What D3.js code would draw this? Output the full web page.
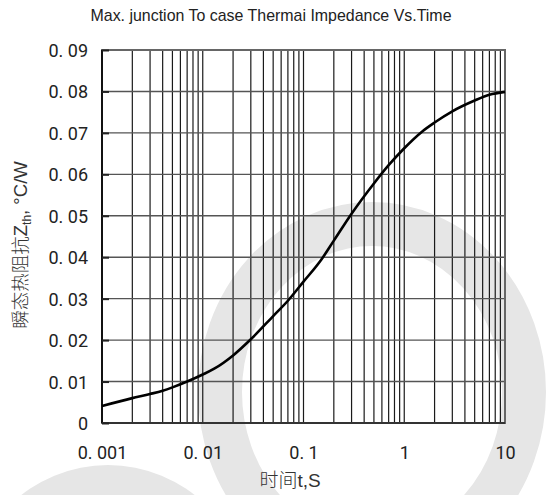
<html>
<title>Thermal impedance</title>
<script src="https://cdnjs.cloudflare.com/ajax/libs/d3/7.8.5/d3.min.js"></script>
<style>
body { margin: 0; background: #fff; }
svg { display: block; }
</style>
<body>
<svg width="549" height="495"></svg>
<script>

// data
var timeS = [0.001, 0.002, 0.003, 0.004, 0.005, 0.007, 0.01, 0.013, 0.02, 0.03, 0.05, 0.07, 0.1, 0.15, 0.2, 0.3, 0.5, 0.7, 1, 1.5, 2, 3, 5, 7, 10];
var zth = [0.0041, 0.0060, 0.0070, 0.0078, 0.0086, 0.0100, 0.0117, 0.0131, 0.0163, 0.0202, 0.0258, 0.0295, 0.0341, 0.0394, 0.0440, 0.0505, 0.0578, 0.0622, 0.0663, 0.0703, 0.0725, 0.0752, 0.0778, 0.0792, 0.0799];

var xTicks = [0.001, 0.01, 0.1, 1, 10];
var xTickLabels = ["0. 001", "0. 01", "0. 1", "1", "10"];
var yTicks = [0, 0.01, 0.02, 0.03, 0.04, 0.05, 0.06, 0.07, 0.08, 0.09];
var yTickLabels = ["0", "0. 01", "0. 02", "0. 03", "0. 04", "0. 05", "0. 06", "0. 07", "0. 08", "0. 09"];

var title = "Max. junction To case Thermai Impedance Vs.Time";

var svg = d3.select("svg");
var plotL = 102, plotR = 505, plotT = 50, plotB = 423;

var x = d3.scaleLog().domain([0.001, 10]).range([plotL, plotR]);
var y = d3.scaleLinear().domain([0, 0.09]).range([plotB, plotT]);

// watermark rings behind the chart
svg.append("ellipse")
	.attr("cx", 372).attr("cy", 392).attr("rx", 152).attr("ry", 168)
	.style("fill", "none").style("stroke", "#e6e6e6").style("stroke-width", 44);
svg.append("circle")
	.attr("cx", 108).attr("cy", 605).attr("r", 140)
	.style("fill", "#e6e6e6");

// minor + major vertical grid lines (1..9 per decade)
var vLines = [];
xTicks.slice(0, -1).forEach(function (d) {
	for (var i = 1; i < 10; i++) vLines.push(d * i);
});
vLines.push(10);

svg.append("g").selectAll("line").data(vLines).enter().append("line")
	.attr("x1", function (d) { return x(d); })
	.attr("x2", function (d) { return x(d); })
	.attr("y1", plotT).attr("y2", plotB)
	.style("stroke", "#1a1a1a").style("stroke-width", 1.2);

svg.append("g").selectAll("line").data(yTicks).enter().append("line")
	.attr("x1", plotL).attr("x2", plotR)
	.attr("y1", function (d) { return y(d); })
	.attr("y2", function (d) { return y(d); })
	.style("stroke", "#555").style("stroke-width", 1.4);

// frame
svg.append("rect")
	.attr("x", plotL).attr("y", plotT).attr("width", plotR - plotL).attr("height", plotB - plotT)
	.style("fill", "none").style("stroke", "#666").style("stroke-width", 2);
svg.append("line").attr("x1", plotL).attr("x2", plotL).attr("y1", plotT).attr("y2", plotB)
	.style("stroke", "#111").style("stroke-width", 2);
svg.append("line").attr("x1", plotL).attr("x2", plotR).attr("y1", plotB).attr("y2", plotB)
	.style("stroke", "#333").style("stroke-width", 2);

// axes (labels + short inward ticks)
var yAxis = d3.axisLeft(y).tickValues(yTicks).tickSize(-7).tickPadding(14)
	.tickFormat(function (d, i) { return yTickLabels[i]; });
var gy = svg.append("g").attr("transform", "translate(" + plotL + ",0)").call(yAxis);

var xAxis = d3.axisBottom(x).tickValues(xTicks).tickSize(0).tickPadding(30)
	.tickFormat(function (d, i) { return xTickLabels[i]; });
var gx = svg.append("g").attr("transform", "translate(0," + plotB + ")").call(xAxis);

[gx, gy].forEach(function (g) {
	g.select(".domain").remove();
	g.selectAll(".tick line").style("stroke", "#222").style("stroke-width", 2);
	g.selectAll("text")
		.style("font-family", "Roboto, sans-serif")
		.style("font-size", "18px")
		.style("fill", "#222")
		.style("white-space", "pre");
});
gy.selectAll("text").attr("dy", "0.36em");
gx.selectAll("text").attr("dy", "0.36em");
gx.selectAll(".tick line").remove();

// curve
var line = d3.line()
	.x(function (d) { return x(d[0]); })
	.y(function (d) { return y(d[1]); })
	.curve(d3.curveMonotoneX);

svg.append("path")
	.datum(d3.zip(timeS, zth))
	.attr("d", line)
	.style("fill", "none").style("stroke", "#000").style("stroke-width", 2.6);

// titles
svg.append("text")
	.attr("x", 271).attr("y", 21)
	.attr("text-anchor", "middle")
	.attr("textLength", 361).attr("lengthAdjust", "spacingAndGlyphs")
	.style("font-family", "'Liberation Sans Narrow', 'Liberation Sans', sans-serif")
	.style("font-size", "17px")
	.style("fill", "#222")
	.text(title);

var xt = svg.append("text")
	.attr("x", 290).attr("y", 487)
	.attr("text-anchor", "middle")
	.style("font-size", "19px")
	.style("fill", "#333");
xt.append("tspan").style("font-family", "'Noto Sans CJK SC', sans-serif").style("font-weight", 300).text("时间");
xt.append("tspan").style("font-family", "'Liberation Sans', sans-serif").text("t,S");

var yt = svg.append("text")
	.attr("transform", "translate(27,245) rotate(-90)")
	.attr("text-anchor", "middle")
	.style("font-size", "18.5px")
	.style("fill", "#333");
yt.append("tspan").style("font-family", "'Noto Sans CJK SC', sans-serif").style("font-weight", 300).text("瞬态热阻抗");
yt.append("tspan").style("font-family", "'Liberation Sans', sans-serif").text("Z");
yt.append("tspan").style("font-family", "'Liberation Sans', sans-serif").style("font-size", "12px").attr("dy", 4).text("th");
yt.append("tspan").style("font-family", "'Liberation Sans', sans-serif").attr("dy", -4).text(", °C/W");

</script>
</body>
</html>
